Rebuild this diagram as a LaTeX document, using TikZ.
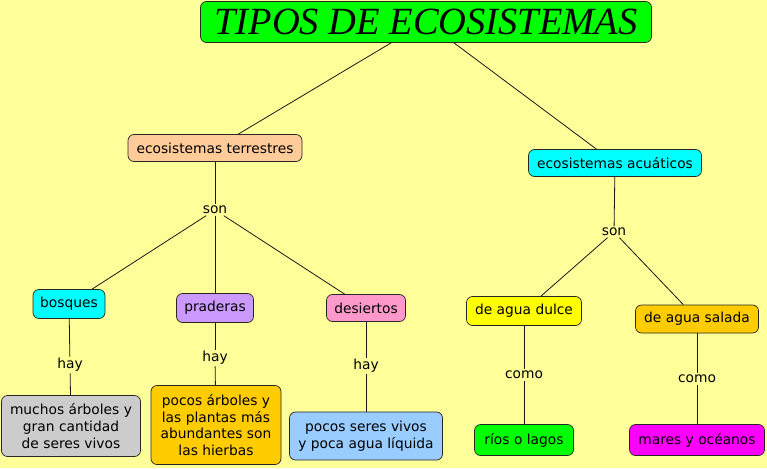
\documentclass[tikz,border=0pt]{standalone}
\usepackage{fontspec}
\setmainfont{DejaVu Sans}
\newfontfamily\titlefont{Liberation Serif}
\usepackage{tikz}
\definecolor{fondo}{HTML}{FFFF99}

\begin{document}
\begin{tikzpicture}[x=1pt,y=-1pt,
  concepto/.style={draw=black!85, line width=0.7pt, rounded corners=6pt, align=center,
    inner sep=2pt, font=\fontsize{13.8}{16.6}\selectfont},
  enlace/.style={fill=fondo, inner sep=1.5pt, font=\fontsize{13.8}{16}\selectfont},
  linea/.style={line width=0.8pt, black!90}]
\fill[fondo] (0,0) rectangle (767,468);
\useasboundingbox (0,0) rectangle (767,468);
% conceptos
\node[concepto, fill={rgb,255:red,0;green,255;blue,0}, minimum width=451, minimum height=41,
  font=\titlefont\itshape\fontsize{38.5}{40}\selectfont] (titulo) at (426,22) {TIPOS DE ECOSISTEMAS};
\node[concepto, fill={rgb,255:red,255;green,204;blue,153}, minimum width=174, minimum height=27] (terr) at (215,148) {ecosistemas terrestres};
\node[concepto, fill={rgb,255:red,0;green,255;blue,255}, minimum width=173, minimum height=27] (acua) at (615,163) {ecosistemas acuáticos};
\node[concepto, fill={rgb,255:red,0;green,255;blue,255}, minimum width=72, minimum height=29] (bosq) at (69,304) {bosques};
\node[concepto, fill={rgb,255:red,204;green,153;blue,255}, minimum width=77, minimum height=29] (prad) at (215,308) {praderas};
\node[concepto, fill={rgb,255:red,255;green,153;blue,204}, minimum width=79, minimum height=27] (desi) at (366,308) {desiertos};
\node[concepto, fill={rgb,255:red,255;green,255;blue,0}, minimum width=115, minimum height=29] (dulce) at (524,311) {de agua dulce};
\node[concepto, fill={rgb,255:red,255;green,204;blue,0}, minimum width=123, minimum height=28] (salada) at (697,319) {de agua salada};
\node[concepto, fill={rgb,255:red,204;green,204;blue,204}, minimum width=139, minimum height=61] (muchos) at (71,426) {muchos árboles y\\gran cantidad\\de seres vivos};
\node[concepto, fill={rgb,255:red,255;green,204;blue,0}, minimum width=130, minimum height=79] (pocosarb) at (216,425) {pocos árboles y\\las plantas más\\abundantes son\\las hierbas};
\node[concepto, fill={rgb,255:red,153;green,204;blue,255}, minimum width=153, minimum height=48] (pocosser) at (366,436) {pocos seres vivos\\y poca agua líquida};
\node[concepto, fill={rgb,255:red,0;green,255;blue,0}, minimum width=99, minimum height=31] (rios) at (524,440) {ríos o lagos};
\node[concepto, fill={rgb,255:red,255;green,0;blue,255}, minimum width=135, minimum height=31] (mares) at (697,440) {mares y océanos};
% enlaces
\node[enlace] (sonT) at (215,210) {son};
\node[enlace] (sonA) at (614,232) {son};
\node[enlace] (hayB) at (70,365) {hay};
\node[enlace] (hayP) at (215,358) {hay};
\node[enlace] (hayD) at (366,366) {hay};
\node[enlace] (comoD) at (524,375) {como};
\node[enlace] (comoS) at (697,379) {como};
% lineas
\draw[linea] (titulo) -- (terr);
\draw[linea] (titulo) -- (acua);
\draw[linea] (terr) -- (sonT);
\draw[linea] (sonT) -- (bosq);
\draw[linea] (sonT) -- (prad);
\draw[linea] (sonT) -- (desi);
\draw[linea] (acua) -- (sonA);
\draw[linea] (sonA) -- (dulce);
\draw[linea] (sonA) -- (salada);
\draw[linea] (bosq) -- (hayB);
\draw[linea] (hayB) -- (muchos);
\draw[linea] (prad) -- (hayP);
\draw[linea] (hayP) -- (pocosarb);
\draw[linea] (desi) -- (hayD);
\draw[linea] (hayD) -- (pocosser);
\draw[linea] (dulce) -- (comoD);
\draw[linea] (comoD) -- (rios);
\draw[linea] (salada) -- (comoS);
\draw[linea] (comoS) -- (mares);
\end{tikzpicture}
\end{document}
